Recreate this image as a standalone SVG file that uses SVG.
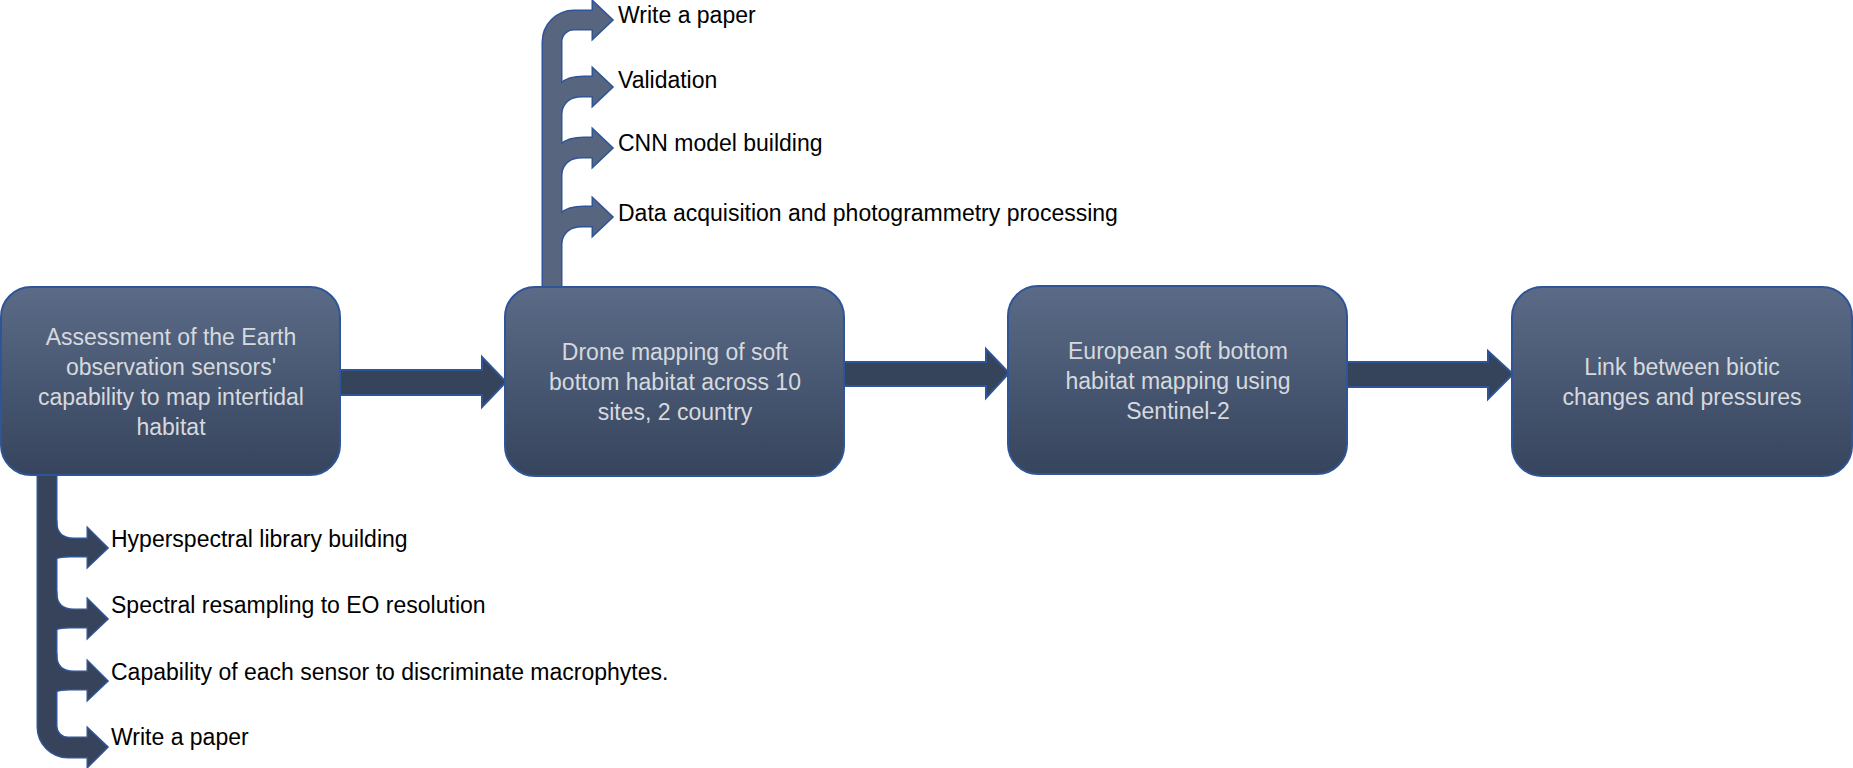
<svg xmlns="http://www.w3.org/2000/svg" width="1853" height="768" viewBox="0 0 1853 768">
<defs>
<linearGradient id="boxg" x1="0" y1="0" x2="0" y2="1">
<stop offset="0" stop-color="#5b6b87"/>
<stop offset="1" stop-color="#36445d"/>
</linearGradient>
</defs>
<style>
.box{fill:url(#boxg);stroke:#2f5597;stroke-width:2}
.bt{font-family:"Liberation Sans",Arial,sans-serif;font-size:23px;fill:#d6d9de;text-anchor:middle}
.lb{font-family:"Liberation Sans",Arial,sans-serif;font-size:23px;fill:#000}
.main{fill:#35435b;stroke:#2f5597;stroke-width:2}
.topS{stroke:#2f5597;stroke-width:3;fill:#57657f}
.topF{fill:#57657f}
.botS{stroke:#2f5597;stroke-width:3;fill:#36435b}
.botF{fill:#36435b}
</style>
<rect width="1853" height="768" fill="#fff"/>
<g id="connectors">
<!-- top branch group (box2) -->
<g id="top-branches">
<path class="topS" d="M543,292 L543,42 A31,31 0 0 1 574,11 L593,11 L593,2 L612,20 L593,38 L593,29 L574,29 A13,13 0 0 0 561,42 L561,292 Z"/>
<path class="topS" d="M552,84 L561,84 C566,79 574,77 584,77 L593,77 L593,69 L612,87 L593,105 L593,96 L582,96 C570,96 563,102 561,112 L552,112 Z"/>
<path class="topS" d="M552,145 L561,145 C566,140 574,138 584,138 L593,138 L593,130 L612,148 L593,166 L593,157 L582,157 C570,157 563,163 561,173 L552,173 Z"/>
<path class="topS" d="M552,214 L561,214 C566,209 574,207 584,207 L593,207 L593,199 L612,217 L593,235 L593,226 L582,226 C570,226 563,232 561,242 L552,242 Z"/>
<path class="topF" d="M543,292 L543,42 A31,31 0 0 1 574,11 L593,11 L593,2 L612,20 L593,38 L593,29 L574,29 A13,13 0 0 0 561,42 L561,292 Z"/>
<path class="topF" d="M552,84 L561,84 C566,79 574,77 584,77 L593,77 L593,69 L612,87 L593,105 L593,96 L582,96 C570,96 563,102 561,112 L552,112 Z"/>
<path class="topF" d="M552,145 L561,145 C566,140 574,138 584,138 L593,138 L593,130 L612,148 L593,166 L593,157 L582,157 C570,157 563,163 561,173 L552,173 Z"/>
<path class="topF" d="M552,214 L561,214 C566,209 574,207 584,207 L593,207 L593,199 L612,217 L593,235 L593,226 L582,226 C570,226 563,232 561,242 L552,242 Z"/>
</g>
<!-- bottom branch group (box1) -->
<g id="bottom-branches">
<path class="botS" d="M38,470 L38,727 A30,30 0 0 0 68,757 L88,757 L88,766 L107,747 L88,729 L88,738 L68,738 A12,12 0 0 1 56,726 L56,470 Z"/>
<path class="botS" d="M47,522 L56,522 C56,533 62,539 74,539 L88,539 L88,529 L107,548 L88,566 L88,556 L70,556 C62,556 58,557 56,558 L47,558 Z"/>
<path class="botS" d="M47,593 L56,593 C56,604 62,610 74,610 L88,610 L88,600 L107,619 L88,637 L88,627 L70,627 C62,627 58,628 56,629 L47,629 Z"/>
<path class="botS" d="M47,655 L56,655 C56,666 62,672 74,672 L88,672 L88,662 L107,681 L88,699 L88,689 L70,689 C62,689 58,690 56,691 L47,691 Z"/>
<path class="botF" d="M38,470 L38,727 A30,30 0 0 0 68,757 L88,757 L88,766 L107,747 L88,729 L88,738 L68,738 A12,12 0 0 1 56,726 L56,470 Z"/>
<path class="botF" d="M47,522 L56,522 C56,533 62,539 74,539 L88,539 L88,529 L107,548 L88,566 L88,556 L70,556 C62,556 58,557 56,558 L47,558 Z"/>
<path class="botF" d="M47,593 L56,593 C56,604 62,610 74,610 L88,610 L88,600 L107,619 L88,637 L88,627 L70,627 C62,627 58,628 56,629 L47,629 Z"/>
<path class="botF" d="M47,655 L56,655 C56,666 62,672 74,672 L88,672 L88,662 L107,681 L88,699 L88,689 L70,689 C62,689 58,690 56,691 L47,691 Z"/>
</g>
<!-- main flow arrows -->
<path class="main" d="M335,370 L482,370 L482,357 L506,382 L482,407 L482,395 L335,395 Z"/>
<path class="main" d="M839,362 L986,362 L986,349 L1009,373 L986,398 L986,386 L839,386 Z"/>
<path class="main" d="M1342,362 L1488,362 L1488,351 L1513,374 L1488,399 L1488,387 L1342,387 Z"/>
</g>
<g id="node1">
<rect class="box" x="1" y="287" width="339" height="188" rx="30"/>
<text class="bt"><tspan x="171" y="345">Assessment of the Earth</tspan><tspan x="171" y="375">observation sensors'</tspan><tspan x="171" y="405">capability to map intertidal</tspan><tspan x="171" y="435">habitat</tspan></text>
</g>
<g id="node2">
<rect class="box" x="505" y="287" width="339" height="189" rx="30"/>
<text class="bt"><tspan x="675" y="360">Drone mapping of soft</tspan><tspan x="675" y="390">bottom habitat across 10</tspan><tspan x="675" y="420">sites, 2 country</tspan></text>
</g>
<g id="node3">
<rect class="box" x="1008" y="286" width="339" height="188" rx="30"/>
<text class="bt"><tspan x="1178" y="359">European soft bottom</tspan><tspan x="1178" y="389">habitat mapping using</tspan><tspan x="1178" y="419">Sentinel-2</tspan></text>
</g>
<g id="node4">
<rect class="box" x="1512" y="287" width="340" height="189" rx="30"/>
<text class="bt"><tspan x="1682" y="375">Link between biotic</tspan><tspan x="1682" y="405">changes and pressures</tspan></text>
</g>
<g id="labels-top">
<text class="lb" x="618" y="23">Write a paper</text>
<text class="lb" x="618" y="88">Validation</text>
<text class="lb" x="618" y="151">CNN model building</text>
<text class="lb" x="618" y="221">Data acquisition and photogrammetry processing</text>
</g>
<g id="labels-bottom">
<text class="lb" x="111" y="547">Hyperspectral library building</text>
<text class="lb" x="111" y="613">Spectral resampling to EO resolution</text>
<text class="lb" x="111" y="680">Capability of each sensor to discriminate macrophytes.</text>
<text class="lb" x="111" y="745">Write a paper</text>
</g>
</svg>
